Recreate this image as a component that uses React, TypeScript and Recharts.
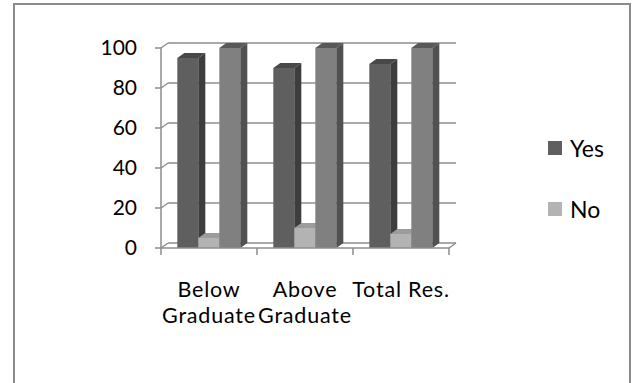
import React from "react";
import { BarChart, Bar, XAxis, YAxis, CartesianGrid, Legend } from "recharts";

// Survey responses by education group
const categories = ["Below Graduate", "Above Graduate", "Total Res."];
const yesValues = [95, 90, 92];
const noValues = [5, 10, 7];
const totalValues = [100, 100, 100];
const yTicks = [0, 20, 40, 60, 80, 100];
const legendOrder = ["Yes", "No"];

const data = categories.map((name, i) => ({
  name,
  Yes: yesValues[i],
  No: noValues[i],
  Total: totalValues[i],
}));

// depth offset used for the pseudo-3D look
const DX = 7;
const DY = 5;
const FONT = "Lato, 'Open Sans', sans-serif";
const GRID = "#8c8c8c";
const PLOT_BOTTOM = 248;

const shades: Record<string, { front: string; top: string; side: string }> = {
  Yes: { front: "#5f5f5f", top: "#484848", side: "#3d3d3d" },
  No: { front: "#b3b3b3", top: "#9c9c9c", side: "#8e8e8e" },
  Total: { front: "#808080", top: "#585858", side: "#515151" },
};

function makeBox(colors: { front: string; top: string; side: string }) {
  return (props: any) => {
    const { x, y, width: w, height: h } = props;
    if (x == null || y == null || !w || h == null) return <g />;
    return (
      <g>
        <rect x={x} y={y} width={w} height={h} fill={colors.front} />
        <polygon
          points={`${x},${y} ${x + DX},${y - DY} ${x + w + DX},${y - DY} ${x + w},${y}`}
          fill={colors.top}
        />
        <polygon
          points={`${x + w},${y} ${x + w + DX},${y - DY} ${x + w + DX},${y + h - DY} ${x + w},${y + h}`}
          fill={colors.side}
        />
      </g>
    );
  };
}

function gridLine(p: any) {
  const { x1, y1, x2 } = p;
  const isFloor = Math.abs(y1 - PLOT_BOTTOM) < 1;
  return (
    <g key={`g-${y1}`}>
      <line x1={x1} y1={y1} x2={x1 + DX} y2={y1 - DY} stroke={GRID} strokeWidth={1.5} />
      <line x1={x1 + DX} y1={y1 - DY} x2={x2 + DX} y2={y1 - DY} stroke={GRID} strokeWidth={1.5} />
      {isFloor && (
        <line x1={x2} y1={y1} x2={x2 + DX} y2={y1 - DY} stroke={GRID} strokeWidth={1.5} />
      )}
    </g>
  );
}

function CategoryTick(props: any) {
  const { x, y, payload, index, visibleTicksCount } = props;
  const half = payload && payload.offset ? payload.offset : 48;
  const text: string = String(payload.value);
  const lines = text.length > 10 ? text.split(" ") : [text];
  const last = index === (visibleTicksCount ?? categories.length) - 1;
  return (
    <g>
      <line x1={x - half} y1={y} x2={x - half} y2={y + 7} stroke={GRID} strokeWidth={1.5} />
      {last && (
        <line x1={x + half} y1={y} x2={x + half} y2={y + 7} stroke={GRID} strokeWidth={1.5} />
      )}
      <text
        x={x}
        y={y + 49}
        textAnchor="middle"
        fill="#000"
        fontSize={21.5}
        letterSpacing={0.8}
        fontFamily={FONT}
      >
        {lines.map((ln, i) => (
          <tspan key={i} x={x} dy={i === 0 ? 0 : 26}>
            {ln}
          </tspan>
        ))}
      </text>
    </g>
  );
}

function LegendContent(props: any) {
  const payload = props.payload || [];
  const items = legendOrder
    .map((name) => payload.find((e: any) => e.value === name))
    .filter(Boolean);
  return (
    <div style={{ fontFamily: FONT, fontSize: 23, color: "#000" }}>
      {items.map((e: any) => (
        <div
          key={e.value}
          style={{ display: "flex", alignItems: "center", height: 24, marginBottom: 37 }}
        >
          <span
            style={{
              display: "inline-block",
              width: 14,
              height: 14,
              background: shades[e.value].front,
              marginRight: 8,
            }}
          />
          <span>{e.value}</span>
        </div>
      ))}
    </div>
  );
}

export default function App() {
  return (
    <div
      style={{
        position: "absolute",
        left: 0,
        top: 0,
        width: 633,
        height: 383,
        overflow: "hidden",
        background: "#fff",
      }}
    >
      <BarChart
        width={633}
        height={383}
        data={data}
        margin={{ top: 48, right: 184, bottom: 75, left: 101 }}
        barCategoryGap="17%"
        barGap={0}
      >
        <CartesianGrid vertical={false} horizontal={gridLine} />
        <XAxis
          dataKey="name"
          axisLine={{ stroke: GRID, strokeWidth: 1.5 }}
          tickLine={false}
          tickSize={0}
          tickMargin={0}
          height={60}
          interval={0}
          tick={<CategoryTick />}
        />
        <YAxis
          domain={[0, 100]}
          ticks={yTicks}
          width={60}
          tickSize={6}
          tickMargin={18}
          axisLine={{ stroke: GRID, strokeWidth: 1.5 }}
          tickLine={{ stroke: GRID, strokeWidth: 1.5 }}
          tick={{ fill: "#000", fontSize: 21, fontFamily: FONT }}
        />
        <Legend
          layout="vertical"
          verticalAlign="middle"
          align="center"
          wrapperStyle={{ position: "absolute", left: 548, top: 136, width: 80 }}
          content={<LegendContent />}
        />
        <Bar dataKey="Yes" fill={shades.Yes.front} shape={makeBox(shades.Yes)} isAnimationActive={false} />
        <Bar dataKey="No" fill={shades.No.front} shape={makeBox(shades.No)} isAnimationActive={false} />
        <Bar
          dataKey="Total"
          fill={shades.Total.front}
          shape={makeBox(shades.Total)}
          legendType="none"
          isAnimationActive={false}
        />
      </BarChart>
      <div
        style={{
          position: "absolute",
          left: 13,
          top: 3,
          width: 618,
          height: 420,
          boxSizing: "border-box",
          border: "2px solid #8c8c8c",
          pointerEvents: "none",
        }}
      />
    </div>
  );
}
